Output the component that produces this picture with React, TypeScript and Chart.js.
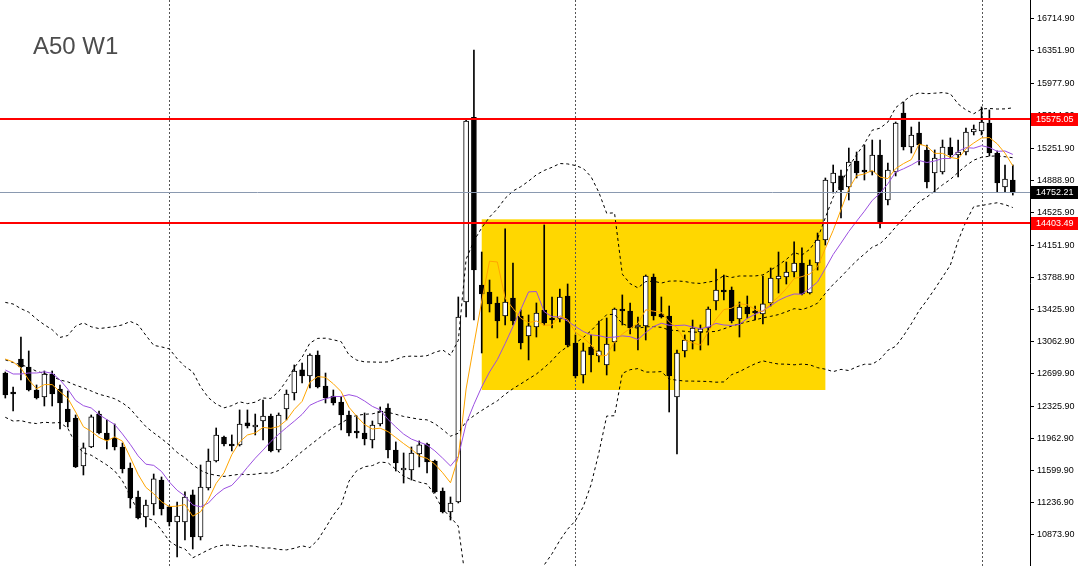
import React, { useEffect, useRef } from 'react';
import { Chart, registerables } from 'chart.js';

Chart.register(...registerables);

const chartTitle = 'A50 W1';

// Weekly closes before the first visible candle (only feed the indicators)
const priorCloses = [13079, 13249, 13136, 13305, 13192, 13102, 13204, 12570, 12400, 12456,
  12921, 12773, 12400, 12422, 12558, 12638, 13113, 13192, 12921];

const opens = [
  12705, 12479, 12864, 12773, 12513, 12434, 12694, 12524, 12298, 12196,
  11653, 11868, 12241, 12026, 11970, 11868, 11630, 11302, 11076, 11223,
  11494, 11189, 11019, 11019, 11325, 10849, 11404, 11709, 11981, 11891,
  11891, 12140, 12094, 12162, 12219, 11834, 12298, 12479, 12740, 12672,
  12909, 12558, 12445, 12377, 12230, 12038, 12026, 11947, 12128, 12309,
  11834, 11607, 11607, 11789, 11902, 11709, 11370, 11132, 11245, 13509,
  15600, 13702, 13622, 13498, 13351, 13554, 13351, 13124, 13226, 13419,
  13317, 13317, 13577, 13045, 12683, 13000, 12898, 12796, 13056, 13419,
  13407, 13226, 13238, 13792, 13373, 13351, 12434, 12955, 13068, 13170,
  13215, 13521, 13634, 13645, 13317, 13453, 13396, 13373, 13498, 13770,
  13792, 13849, 13951, 13611, 13951, 14211, 14856, 14936, 14811, 15105,
  14992, 14981, 15173, 14664, 14981, 15649, 15264, 15422, 15230, 14969,
  14981, 15264, 15173, 15207, 15434, 15445, 15535, 15196, 14811, 14890];

const highs = [
  12717, 12547, 13113, 12955, 12570, 12728, 12728, 12570, 12502, 12230,
  11913, 12230, 12275, 12174, 12128, 11913, 11687, 11370, 11268, 11562,
  11528, 11200, 11245, 11359, 11381, 11664, 11845, 12083, 11992, 12004,
  12287, 12287, 12241, 12400, 12241, 12253, 12513, 12796, 12819, 12921,
  12955, 12705, 12513, 12434, 12275, 12219, 12253, 12162, 12321, 12355,
  11925, 11800, 11868, 11936, 11913, 11721, 11404, 11302, 13566, 15569,
  16362, 14075, 13758, 13566, 14336, 13951, 13419, 13362, 13498, 14381,
  13566, 13656, 13713, 13136, 13045, 13136, 13294, 13328, 13441, 13589,
  13498, 13339, 13815, 13826, 13566, 13464, 12966, 13136, 13305, 13249,
  13453, 13883, 13815, 13679, 13509, 13577, 13464, 13803, 13894, 14075,
  13962, 14189, 14121, 13985, 14290, 14913, 15060, 15003, 15252, 15207,
  15286, 15343, 15343, 15083, 15547, 15773, 15490, 15547, 15286, 15230,
  15343, 15366, 15343, 15479, 15513, 15717, 15683, 15219, 15060, 15060];

const lows = [
  12422, 12275, 12626, 12502, 12411, 12332, 12332, 12072, 12094, 11635,
  11551, 11860, 12015, 11845, 11834, 11574, 11177, 11053, 10962, 11098,
  11098, 10974, 10623, 10815, 10713, 10815, 11381, 11698, 11879, 11823,
  11879, 12083, 12004, 11947, 11811, 11811, 12174, 12400, 12592, 12536,
  12536, 12366, 12343, 12060, 11992, 11970, 11891, 11857, 12106, 11743,
  11596, 11460, 11494, 11642, 11574, 11347, 11121, 11041, 11234, 13339,
  13305, 12932, 13396, 13102, 13249, 13249, 12977, 12853, 13113, 13249,
  13215, 13283, 13000, 12649, 12592, 12717, 12830, 12683, 12955, 13249,
  13147, 12966, 13079, 13305, 13328, 12264, 11789, 12887, 12977, 12966,
  13022, 13419, 13532, 13272, 13113, 13328, 13305, 13260, 13464, 13611,
  13713, 13792, 13589, 13600, 13871, 14154, 14743, 14460, 14664, 14913,
  14890, 14947, 14347, 14607, 14936, 15230, 15196, 15060, 14800, 14754,
  14958, 15139, 14924, 15173, 15400, 15400, 15162, 14754, 14754, 14720];

const closes = [
  12456, 12468, 12773, 12513, 12422, 12694, 12468, 12366, 12151, 11642,
  11857, 12208, 12026, 11947, 11868, 11619, 11291, 11064, 11211, 11506,
  11166, 11019, 11087, 11302, 10849, 11415, 11709, 12004, 11902, 11879,
  12128, 12106, 12117, 12219, 11823, 12230, 12468, 12728, 12672, 12909,
  12547, 12422, 12366, 12230, 12026, 12026, 11958, 12117, 12275, 11834,
  11687, 11619, 11800, 11891, 11698, 11359, 11132, 11234, 13339, 15558,
  13871, 13600, 13487, 13294, 13509, 13294, 13045, 13238, 13385, 13272,
  13305, 13566, 13022, 12672, 12955, 12909, 12955, 13034, 13430, 13407,
  13215, 13249, 13803, 13351, 13339, 12672, 12932, 13079, 13215, 13204,
  13430, 13645, 13622, 13294, 13453, 13373, 13385, 13487, 13781, 13803,
  13849, 13951, 13600, 13928, 14211, 14890, 14969, 14777, 15094, 14969,
  14981, 15173, 14403.49, 15003, 15535, 15264, 15400, 15286, 14868, 15139,
  15264, 15173, 15207, 15434, 15468, 15547, 15196, 14856, 14902, 14752.21];

const yTickValues = [16714.9, 16351.9, 15977.9, 15614.9, 15251.9, 14888.9, 14525.9,
  14151.9, 13788.9, 13425.9, 13062.9, 12699.9, 12325.9, 11962.9, 11599.9, 11236.9, 10873.9];

const levelPrices = [15575.05, 14403.49];
const lastPrice = 14752.21;
const zoneBars = [61, 105];
const zonePrices = [14445, 12513];
const yearStartBars = [21, 73, 125];

const xView = [-0.68, 131.2];
const yView = [10520.6, 16927.8];

function movingAverage(period: number): number[] {
  const all = priorCloses.concat(closes);
  const off = priorCloses.length;
  return closes.map((_, i) => {
    let s = 0;
    for (let k = i + off - period + 1; k <= i + off; k++) s += all[k];
    return s / period;
  });
}

function bollinger(period: number, dev: number) {
  const all = priorCloses.concat(closes);
  const off = priorCloses.length;
  const upper: number[] = [];
  const lower: number[] = [];
  const mid: number[] = [];
  closes.forEach((_, i) => {
    let s = 0;
    for (let k = i + off - period + 1; k <= i + off; k++) s += all[k];
    const m = s / period;
    let v = 0;
    for (let k = i + off - period + 1; k <= i + off; k++) v += (all[k] - m) * (all[k] - m);
    const sd = Math.sqrt(v / period);
    mid.push(m);
    upper.push(m + dev * sd);
    lower.push(m - dev * sd);
  });
  return { upper, lower, mid };
}

export default function App() {
  const ref = useRef<HTMLCanvasElement>(null);

  useEffect(() => {
    const canvas = ref.current;
    if (!canvas) return;
    const idx = closes.map((_, i) => i);
    const ma5 = movingAverage(5);
    const ma10 = movingAverage(10);
    const bb = bollinger(20, 2);

    const line = (vals: number[], color: string, dash: number[], order: number) => ({
      type: 'line' as const,
      data: idx.map((i) => ({ x: i, y: vals[i] })),
      borderColor: color,
      borderWidth: 1,
      borderDash: dash,
      pointRadius: 0,
      pointHoverRadius: 0,
      fill: false,
      tension: 0,
      order,
    });

    const overlay = {
      id: 'overlay',
      beforeDatasetsDraw(chart: any) {
        const { ctx, chartArea, scales } = chart;
        const x = scales.x;
        const y = scales.y;
        ctx.save();
        ctx.beginPath();
        ctx.rect(chartArea.left, chartArea.top, chartArea.width, chartArea.height);
        ctx.clip();
        const x1 = x.getPixelForValue(zoneBars[0]);
        const x2 = x.getPixelForValue(zoneBars[1]);
        const y1 = y.getPixelForValue(zonePrices[0]);
        const y2 = y.getPixelForValue(zonePrices[1]);
        ctx.fillStyle = '#FFD700';
        ctx.fillRect(x1, y1, x2 - x1, y2 - y1);
        ctx.strokeStyle = '#555555';
        ctx.lineWidth = 1;
        ctx.setLineDash([2, 2]);
        for (const b of yearStartBars) {
          const px = Math.round(x.getPixelForValue(b)) + 0.5;
          ctx.beginPath();
          ctx.moveTo(px, chartArea.top);
          ctx.lineTo(px, chartArea.bottom);
          ctx.stroke();
        }
        ctx.restore();
      },
      afterDatasetsDraw(chart: any) {
        const { ctx, chartArea, scales } = chart;
        const y = scales.y;
        ctx.save();
        ctx.beginPath();
        ctx.rect(chartArea.left, chartArea.top, chartArea.width, chartArea.height);
        ctx.clip();
        const py = Math.round(y.getPixelForValue(lastPrice)) + 0.5;
        ctx.strokeStyle = '#8a99b0';
        ctx.lineWidth = 1;
        ctx.beginPath();
        ctx.moveTo(chartArea.left, py);
        ctx.lineTo(chartArea.right, py);
        ctx.stroke();
        ctx.strokeStyle = '#ff0000';
        ctx.lineWidth = 2;
        for (const p of levelPrices) {
          const ly = Math.round(y.getPixelForValue(p));
          ctx.beginPath();
          ctx.moveTo(chartArea.left, ly);
          ctx.lineTo(chartArea.right, ly);
          ctx.stroke();
        }
        ctx.restore();
      },
      afterDraw(chart: any) {
        const { ctx, chartArea, scales } = chart;
        const y = scales.y;
        ctx.save();
        const boxes = [
          { v: levelPrices[0], bg: '#ff0000' },
          { v: levelPrices[1], bg: '#ff0000' },
          { v: lastPrice, bg: '#000000' },
        ];
        ctx.font = '9px "Liberation Sans", Arial, sans-serif';
        ctx.textBaseline = 'middle';
        ctx.textAlign = 'left';
        for (const b of boxes) {
          const by = Math.round(y.getPixelForValue(b.v));
          ctx.fillStyle = b.bg;
          ctx.fillRect(chartArea.right + 1, by - 6, 47, 13);
          ctx.fillStyle = '#ffffff';
          ctx.fillText(b.v.toFixed(2), chartArea.right + 6, by + 0.5);
        }
        ctx.font = '24px "Liberation Sans", Arial, sans-serif';
        ctx.textBaseline = 'alphabetic';
        ctx.fillStyle = '#4d4d4d';
        ctx.fillText(chartTitle, 33, 54);
        ctx.restore();
      },
    };

    const chart = new Chart(canvas, {
      type: 'bar',
      data: {
        datasets: [
          {
            type: 'bar',
            data: idx.map((i) => ({ x: i, y: [lows[i], highs[i]] })),
            backgroundColor: '#000000',
            borderWidth: 0,
            barThickness: 1,
            grouped: false,
            order: 10,
          } as any,
          {
            type: 'bar',
            data: idx.map((i) => ({ x: i, y: [opens[i], closes[i]] })),
            backgroundColor: idx.map((i) => (closes[i] >= opens[i] ? '#ffffff' : '#000000')),
            borderColor: '#000000',
            borderWidth: 1,
            borderSkipped: false,
            barThickness: 5,
            minBarLength: 2,
            grouped: false,
            order: 9,
          } as any,
          line(bb.upper, '#000000', [3, 3], 5),
          line(bb.mid, '#000000', [3, 3], 5),
          line(bb.lower, '#000000', [3, 3], 5),
          line(ma10, '#9b4fe0', [], 3),
          line(ma5, '#ffa500', [], 2),
        ],
      },
      options: {
        animation: false,
        responsive: false,
        maintainAspectRatio: false,
        events: [],
        layout: { padding: 0 },
        plugins: {
          legend: { display: false },
          tooltip: { enabled: false },
          title: { display: false },
        },
        scales: {
          x: {
            type: 'linear',
            min: xView[0],
            max: xView[1],
            display: false,
            offset: false,
          },
          y: {
            type: 'linear',
            position: 'right',
            min: yView[0],
            max: yView[1],
            afterBuildTicks: (s: any) => {
              s.ticks = yTickValues.map((v) => ({ value: v }));
            },
            afterFit: (s: any) => {
              s.width = 50;
              s.paddingTop = 0;
              s.paddingBottom = 0;
            },
            ticks: {
              autoSkip: false,
              color: '#000000',
              padding: 3,
              font: { family: '"Liberation Sans", Arial, sans-serif', size: 9 },
              callback: (v: any) => Number(v).toFixed(2),
            },
            grid: {
              display: true,
              drawOnChartArea: false,
              drawTicks: true,
              tickLength: 4,
              color: '#000000',
            },
            border: { display: true, color: '#000000', width: 1 },
          },
        },
      } as any,
      plugins: [overlay],
    });

    return () => chart.destroy();
  }, []);

  return (
    <div style={{ position: 'fixed', left: 0, top: 0, width: 1080, height: 566, background: '#ffffff' }}>
      <canvas ref={ref} width={1080} height={566} style={{ display: 'block' }} />
    </div>
  );
}
